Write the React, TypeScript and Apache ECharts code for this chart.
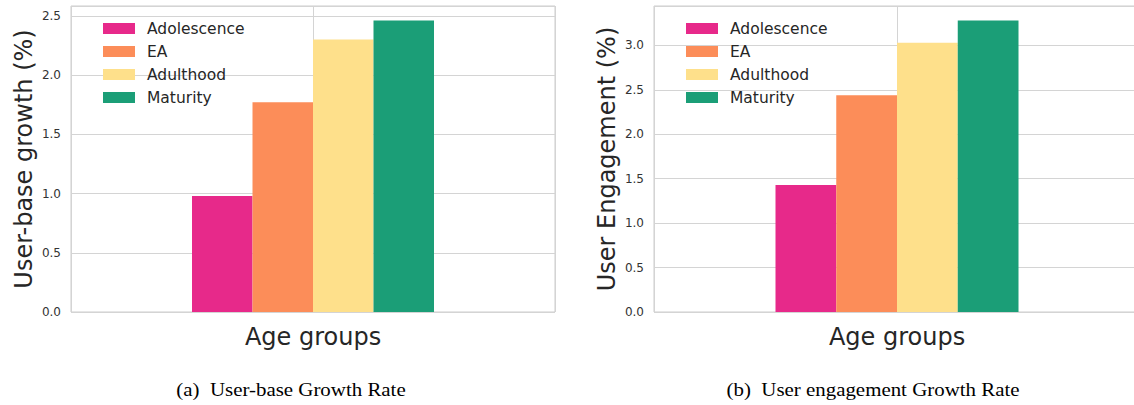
import React, { useEffect, useRef } from "react";
import * as echarts from "echarts";

const categories = ["Age groups"];
const seriesNames = ["Adolescence", "EA", "Adulthood", "Maturity"];
const seriesColors = ["#e7298a", "#fc8d59", "#fee08b", "#1b9e77"];
const userBaseGrowth = [0.98, 1.77, 2.3, 2.46];
const userEngagement = [1.43, 2.44, 3.03, 3.28];
const yAxisTitles = ["User-base growth (%)", "User Engagement (%)"];
const xAxisTitle = "Age groups";
const captions = ["(a)\u2002User-base Growth Rate", "(b)\u2002User engagement Growth Rate"];

const FONT = "DejaVu Sans";
const GRID_COLOR = "#d4d4d4";
const CHART_W = 1140;

export default function App() {
  const ref = useRef<HTMLDivElement>(null);
  useEffect(() => {
    if (!ref.current) return;
    const chart = echarts.init(ref.current, undefined, { renderer: "svg" });
    const panels = [userBaseGrowth, userEngagement];
    const grids = [
      { left: 71, top: 6, bottom: 93, right: CHART_W - 555 },
      { left: 654, top: 6, bottom: 93, right: 0 },
    ].map((g) => ({ ...g, show: true, borderColor: "#cccccc", borderWidth: 1, backgroundColor: "transparent" }));

    const xAxis: any[] = [];
    const yAxis: any[] = [];
    const series: any[] = [];
    panels.forEach((vals, g) => {
      xAxis.push({
        gridIndex: g,
        type: "category",
        data: categories,
        name: xAxisTitle,
        nameLocation: "middle",
        nameGap: 13,
        nameTextStyle: { fontSize: 24, color: "#262626", fontFamily: FONT },
        axisLabel: { show: false },
        axisTick: { show: false },
        axisLine: { show: false },
        splitLine: { show: false },
      });
      xAxis.push({
        gridIndex: g,
        type: "value",
        min: -0.5,
        max: 0.5,
        interval: 0.5,
        axisLabel: { show: false },
        axisTick: { show: false },
        axisLine: { show: false },
        splitLine: { show: true, lineStyle: { color: GRID_COLOR, width: 1 } },
      });
      const maxV = Math.max(...vals) * 1.05;
      yAxis.push({
        gridIndex: g,
        type: "value",
        min: 0,
        max: maxV,
        interval: 0.5,
        name: yAxisTitles[g],
        nameLocation: "middle",
        nameGap: 35,
        nameTextStyle: { fontSize: 24, color: "#262626", fontFamily: FONT },
        axisLabel: {
          fontSize: 12,
          color: "#333333",
          fontFamily: FONT,
          margin: 10,
          showMaxLabel: false,
          formatter: (v: number) => v.toFixed(1),
        },
        axisTick: { show: false },
        axisLine: { show: false },
        splitLine: { show: true, lineStyle: { color: GRID_COLOR, width: 1 } },
      });
      seriesNames.forEach((name, i) => {
        series.push({
          type: "bar",
          name,
          xAxisIndex: g * 2,
          yAxisIndex: g,
          data: [vals[i]],
          barGap: "0%",
          barCategoryGap: "50%",
          itemStyle: { color: seriesColors[i] },
        });
      });
    });

    const legendBase = {
      orient: "vertical",
      top: 17,
      padding: 0,
      itemWidth: 32,
      itemHeight: 11,
      itemGap: 0,
      icon: "rect",
      selectedMode: false,
      data: seriesNames,
      textStyle: { fontSize: 15.5, lineHeight: 23, color: "#262626", fontFamily: FONT, padding: [0, 0, 0, 7] },
    };

    const captionStyle = {
      fontSize: 19,
      fontFamily: "Liberation Serif",
      fill: "#000000",
      align: "center",
      verticalAlign: "middle",
    };

    chart.setOption({
      animation: false,
      backgroundColor: "#ffffff",
      grid: grids,
      xAxis,
      yAxis,
      series,
      legend: [
        { ...legendBase, left: 103 },
        { ...legendBase, left: 686 },
      ],
      graphic: [
        { type: "text", x: 291, y: 389.5, scaleX: 1.1, style: { ...captionStyle, text: captions[0] } },
        { type: "text", x: 873, y: 389.5, scaleX: 1.1, style: { ...captionStyle, text: captions[1] } },
      ],
    });
    return () => chart.dispose();
  }, []);
  return (
    <div style={{ position: "absolute", left: 0, top: 0, width: 1134, height: 405, overflow: "hidden" }}>
      <div ref={ref} style={{ width: CHART_W, height: 405 }} />
    </div>
  );
}
